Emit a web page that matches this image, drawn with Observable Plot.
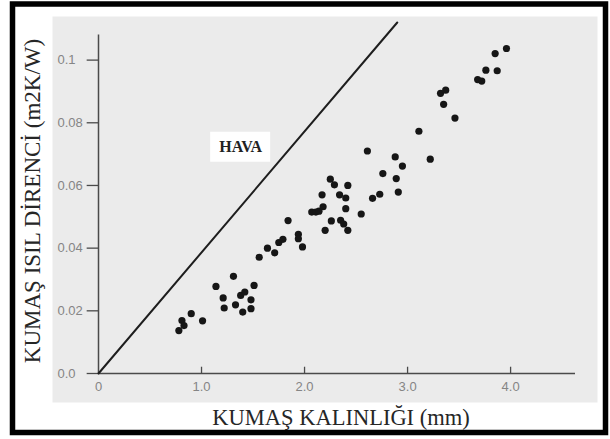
<!DOCTYPE html>
<html>
<head>
<meta charset="utf-8">
<script src="https://cdn.jsdelivr.net/npm/d3@7"></script>
<script src="https://cdn.jsdelivr.net/npm/@observablehq/plot@0.6"></script>
<style>
  html, body { margin: 0; padding: 0; background: #ffffff; }
  #chart svg { display: block; }
</style>
</head>
<body>
<div id="chart"></div>
<script>
// Fabric thickness (mm) and thermal resistance (m2K/W) of the measured fabrics
const thickness = [
  0.78, 0.81, 0.83, 0.90, 1.01, 1.14, 1.21, 1.22, 1.31, 1.33,
  1.38, 1.42, 1.40, 1.48, 1.48, 1.51, 1.56, 1.64, 1.71, 1.75,
  1.79, 1.84, 1.94, 1.94, 1.98, 2.07, 2.11, 2.14, 2.18, 2.17,
  2.20, 2.25, 2.29, 2.26, 2.34, 2.35, 2.40, 2.40, 2.42, 2.38,
  2.42, 2.55, 2.61, 2.66, 2.73, 2.76, 2.88, 2.89, 2.91, 2.95,
  3.11, 3.22, 3.32, 3.37, 3.35, 3.46, 3.68, 3.72, 3.76, 3.87,
  3.85, 3.96
];
const resistance = [
  0.0137, 0.0169, 0.0153, 0.0191, 0.0168, 0.0278, 0.0241, 0.0209, 0.0310, 0.0219,
  0.0249, 0.0260, 0.0196, 0.0235, 0.0207, 0.0281, 0.0371, 0.0400, 0.0385, 0.0418,
  0.0428, 0.0488, 0.0444, 0.0430, 0.0404, 0.0515, 0.0515, 0.0518, 0.0532, 0.0570,
  0.0457, 0.0620, 0.0602, 0.0487, 0.0570, 0.0489, 0.0560, 0.0526, 0.0600, 0.0477,
  0.0457, 0.0509, 0.0710, 0.0559, 0.0572, 0.0638, 0.0691, 0.0622, 0.0579, 0.0662,
  0.0773, 0.0684, 0.0894, 0.0904, 0.0859, 0.0815, 0.0938, 0.0933, 0.0968, 0.0966,
  0.1021, 0.1037
];

// Still-air reference line
const airLineX = [0, 2.9];
const airLineY = [0, 0.112];
const airLabel = "HAVA";
const airLabelX = 1.38;
const airLabelY = 0.0722;

// Axis ticks and labels
const xTicks = [0, 1, 2, 3, 4];
const xTickLabels = ["0", "1.0", "2.0", "3.0", "4.0"];
const yTicks = [0, 0.02, 0.04, 0.06, 0.08, 0.1];
const yTickLabels = ["0.0", "0.02", "0.04", "0.06", "0.08", "0.1"];
const xTitle = "KUMAŞ KALINLIĞI (mm)";
const yTitle = "KUMAŞ ISIL DİRENCİ (m2K/W)";

const points = thickness.map((t, i) => ({t, r: resistance[i]}));
const air = airLineX.map((x, i) => ({x, y: airLineY[i]}));
const label = [{x: airLabelX, y: airLabelY, text: airLabel}];

const serif = "'Liberation Serif', 'DejaVu Serif', serif";
const sans = "'Liberation Sans', Arial, sans-serif";
const axisColor = "#4a4a4a";
const tickTextColor = "#858585";

const chart = Plot.plot({
  width: 610,
  height: 439,
  marginLeft: 98,
  marginRight: 35,
  marginTop: 22,
  marginBottom: 66,
  style: {background: "transparent", overflow: "visible"},
  x: {domain: [0, 4.63], axis: null},
  y: {domain: [0, 0.112], axis: null},
  marks: [
    // page border and grey panel
    Plot.frame({stroke: "#000", strokeWidth: 5.5, insetLeft: -86, insetRight: -30, insetTop: -18.5, insetBottom: -59}),
    Plot.frame({fill: "#ebebeb", insetLeft: -46, insetRight: -22, insetTop: -6, insetBottom: -29}),

    // axis lines
    Plot.ruleX([0], {y1: 0, y2: 0.108, stroke: axisColor, strokeWidth: 1.5}),
    Plot.ruleY([0], {x1: 0, x2: 4.63, stroke: axisColor, strokeWidth: 1.5}),

    // tick marks
    Plot.ruleY(yTicks, {y: d => d, x1: -0.11, x2: 0, stroke: axisColor, strokeWidth: 1.3}),
    Plot.ruleX(xTicks.slice(1), {x: d => d, y1: 0, y2: 0.002, stroke: axisColor, strokeWidth: 1.3}),

    // tick labels
    Plot.text(yTicks, {
      x: 0, y: d => d, text: (d, i) => yTickLabels[i],
      textAnchor: "start", dx: -41, fontSize: 13, fontFamily: sans, fill: tickTextColor
    }),
    Plot.text(xTicks, {
      x: d => d, y: 0, text: (d, i) => xTickLabels[i],
      dy: 13, fontSize: 13, fontFamily: sans, fill: tickTextColor
    }),

    // axis titles
    Plot.text([xTitle], {
      text: d => d, frameAnchor: "bottom", textAnchor: "middle", lineAnchor: "middle",
      dx: 4, dy: 44, fontSize: 22.5, fontFamily: serif, fill: "#262626"
    }),
    Plot.text([yTitle], {
      text: d => d, frameAnchor: "left", textAnchor: "middle", lineAnchor: "middle",
      rotate: -90, dx: -66, dy: 3, fontSize: 23, fontFamily: serif, fill: "#262626"
    }),

    // still-air line and its label
    Plot.line(air, {x: "x", y: "y", stroke: "#1e1e1e", strokeWidth: 2}),
    Plot.rect(label, {
      x1: "x", x2: "x", y1: "y", y2: "y",
      insetLeft: -30, insetRight: -30, insetTop: -15, insetBottom: -15,
      fill: "#ffffff"
    }),
    Plot.text(label, {
      x: "x", y: "y", text: "text",
      fontSize: 16, fontWeight: "bold", fontFamily: serif, fill: "#222"
    }),

    // measured fabrics
    Plot.dot(points, {x: "t", y: "r", r: 3.6, fill: "#161616", stroke: "none"})
  ]
});

document.getElementById("chart").append(chart);
</script>
</body>
</html>
